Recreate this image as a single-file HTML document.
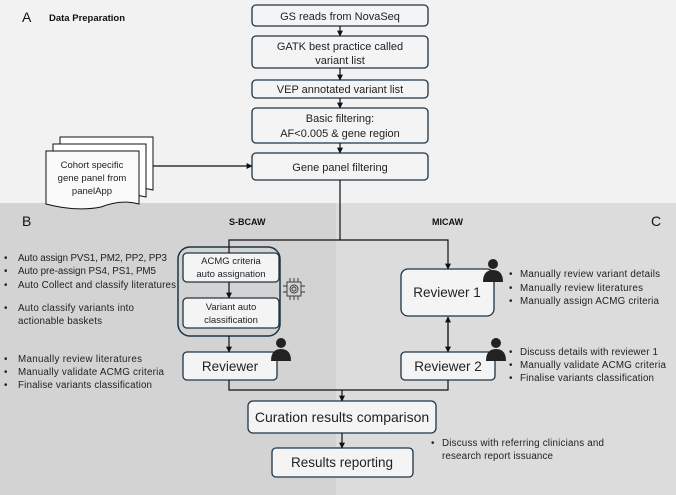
<!DOCTYPE html>
<html><head><meta charset="utf-8"><style>
html,body{margin:0;padding:0;background:#f2f2f2}
svg{display:block;font-family:"Liberation Sans",sans-serif}
</style></head><body>
<svg width="676" height="495" viewBox="0 0 676 495" xmlns="http://www.w3.org/2000/svg">
<defs><marker id="a" viewBox="0 0 10 10" refX="9" refY="5" markerWidth="5" markerHeight="5" orient="auto"><path d="M0,0L10,5L0,10z" fill="#111"/></marker></defs>
<rect x="0" y="0" width="676" height="203" fill="#f2f2f2"/>
<rect x="0" y="203" width="336" height="292" fill="#d3d3d3"/>
<rect x="336" y="203" width="340" height="292" fill="#dcdcdc"/>
<g fill="#111">
<text x="22" y="22" font-size="14">A</text>
<text x="49" y="21" font-size="9.5" font-weight="bold">Data Preparation</text>
<text x="22" y="226" font-size="14">B</text>
<text x="229" y="225" font-size="9" font-weight="bold">S-BCAW</text>
<text x="432" y="225" font-size="9" font-weight="bold">MICAW</text>
<text x="651" y="226" font-size="14">C</text>
</g>
<g fill="#f4f4f4" stroke="#1e3446" stroke-width="1.3">
<rect x="252" y="5" width="176" height="21" rx="4"/>
<rect x="252" y="36" width="176" height="32" rx="4"/>
<rect x="252" y="80" width="176" height="18" rx="4"/>
<rect x="252" y="108" width="176" height="35" rx="4"/>
<rect x="252" y="153" width="176" height="27" rx="4"/>
<rect x="178" y="247" width="102" height="89" rx="12" fill="none" stroke-width="1.5"/>
<rect x="183" y="253" width="96" height="29" rx="4"/>
<rect x="183" y="298" width="96" height="30" rx="4"/>
<rect x="183" y="352" width="94" height="28" rx="4"/>
<rect x="401" y="269" width="93" height="47" rx="7"/>
<rect x="401" y="352" width="94" height="28" rx="4"/>
<rect x="248" y="401" width="188" height="32" rx="5"/>
<rect x="272" y="448" width="141" height="29" rx="4"/>
</g>
<g fill="#fff" stroke="#111" stroke-width="1">
<path d="M60,137 H153 V190 Q135,185 115,193 Q90,198 60,190Z"/>
<path d="M53,144 H146 V197 Q128,192 108,200 Q83,205 53,197Z"/>
<path d="M46,151 H139 V204 Q121,199 101,207 Q76,212 46,204Z" fill="#fafafa"/>
</g>
<g font-size="9.5" fill="#222" text-anchor="middle">
<text x="92" y="168">Cohort specific</text>
<text x="92" y="181">gene panel from</text>
<text x="92" y="194">panelApp</text>
</g>
<g fill="none" stroke="#111" stroke-width="1.2">
<line x1="340" y1="26" x2="340" y2="36" marker-end="url(#a)"/>
<line x1="340" y1="68" x2="340" y2="80" marker-end="url(#a)"/>
<line x1="340" y1="98" x2="340" y2="108" marker-end="url(#a)"/>
<line x1="340" y1="143" x2="340" y2="153" marker-end="url(#a)"/>
<line x1="153" y1="166" x2="252" y2="166" marker-end="url(#a)"/>
<line x1="340" y1="180" x2="340" y2="240"/>
<path d="M229,253 V240 H448 V269" marker-end="url(#a)"/>
<line x1="229" y1="282" x2="229" y2="298" marker-end="url(#a)"/>
<line x1="229" y1="336" x2="229" y2="352" marker-end="url(#a)"/>
<line x1="448" y1="318" x2="448" y2="352" marker-end="url(#a)"/>
<line x1="448" y1="350" x2="448" y2="317" marker-end="url(#a)"/>
<path d="M229,380 V390 H448 V380"/>
<line x1="342" y1="390" x2="342" y2="401" marker-end="url(#a)"/>
<line x1="342" y1="433" x2="342" y2="448" marker-end="url(#a)"/>
</g>
<g font-size="11" fill="#222" text-anchor="middle">
<text x="340" y="20">GS reads from NovaSeq</text>
<text x="340" y="50">GATK best practice called</text>
<text x="340" y="64">variant list</text>
<text x="340" y="93">VEP annotated variant list</text>
<text x="340" y="122">Basic filtering:</text>
<text x="340" y="137">AF&lt;0.005 &amp; gene region</text>
<text x="340" y="171">Gene panel filtering</text>
<text x="231" y="264" font-size="9.5">ACMG criteria</text>
<text x="231" y="277" font-size="9.5">auto assignation</text>
<text x="231" y="310" font-size="9.5">Variant auto</text>
<text x="231" y="323" font-size="9.5">classification</text>
<text x="230" y="371" font-size="13.5">Reviewer</text>
<text x="447" y="297" font-size="13.5">Reviewer 1</text>
<text x="448" y="371" font-size="13.5">Reviewer 2</text>
<text x="342" y="422" font-size="14">Curation results comparison</text>
<text x="342" y="467" font-size="13.5">Results reporting</text>
</g>
<g fill="#222">
<circle cx="281" cy="343" r="5"/><path d="M271,361 Q271,349 281,349 Q291,349 291,361Z"/>
<circle cx="493" cy="264" r="5"/><path d="M483,282 Q483,270 493,270 Q503,270 503,282Z"/>
<circle cx="496" cy="343" r="5"/><path d="M486,361 Q486,349 496,349 Q506,349 506,361Z"/>
</g>
<g stroke="#333" fill="none" stroke-width="0.9">
<rect x="287" y="282" width="14" height="14"/>
<circle cx="294" cy="289" r="4"/><circle cx="294" cy="289" r="2"/>
<path d="M290,282v-4M294,282v-4M298,282v-4M290,296v4M294,296v4M298,296v4M287,286h-4M287,292h-4M301,286h4M301,292h4"/>
</g>
<g font-size="9.8" fill="#222">
<text x="4" y="261">•</text><text x="18" y="261" textLength="149">Auto assign PVS1, PM2, PP2, PP3</text>
<text x="4" y="274">•</text><text x="18" y="274" textLength="138">Auto pre-assign PS4, PS1, PM5</text>
<text x="4" y="288">•</text><text x="18" y="288" textLength="158">Auto Collect and classify literatures</text>
<text x="4" y="311">•</text><text x="18" y="311" textLength="116">Auto classify variants into</text>
<text x="18" y="324" textLength="84">actionable baskets</text>
<text x="4" y="362">•</text><text x="18" y="362" textLength="124">Manually review literatures</text>
<text x="4" y="375">•</text><text x="18" y="375" textLength="146">Manually validate ACMG criteria</text>
<text x="4" y="388">•</text><text x="18" y="388" textLength="134">Finalise variants classification</text>
<text x="509" y="277">•</text><text x="520" y="277" textLength="140">Manually review variant details</text>
<text x="509" y="291">•</text><text x="520" y="291" textLength="123">Manually review literatures</text>
<text x="509" y="304">•</text><text x="520" y="304" textLength="139">Manually assign ACMG criteria</text>
<text x="509" y="355">•</text><text x="520" y="355" textLength="138">Discuss details with reviewer 1</text>
<text x="509" y="368">•</text><text x="520" y="368" textLength="146">Manually validate ACMG criteria</text>
<text x="509" y="381">•</text><text x="520" y="381" textLength="134">Finalise variants classification</text>
<text x="431" y="446">•</text><text x="442" y="446" textLength="162">Discuss with referring clinicians and</text>
<text x="442" y="459" textLength="111">research report issuance</text>
</g>
</svg>
</body></html>
